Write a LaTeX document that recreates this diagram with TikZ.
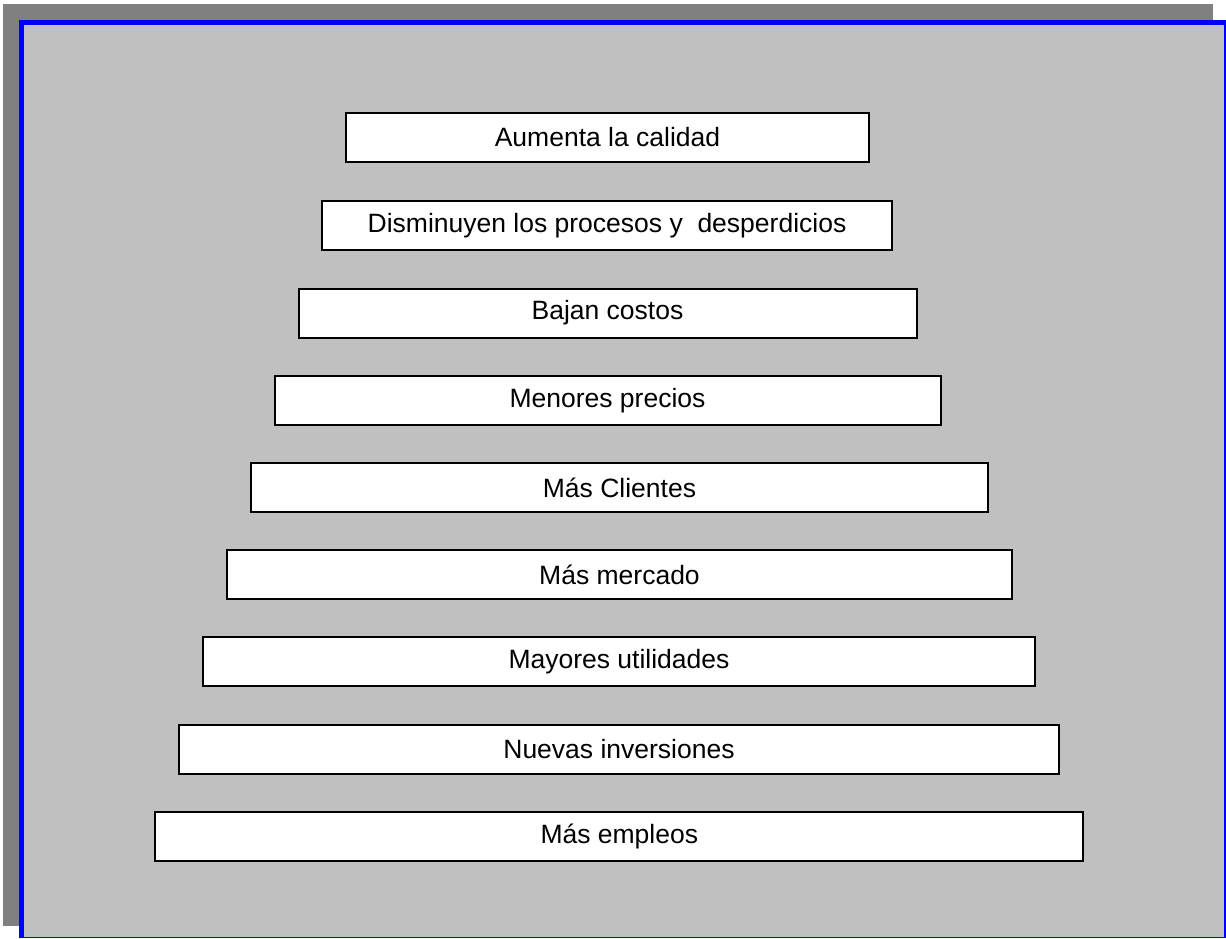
\documentclass[tikz,border=0pt]{standalone}
\usepackage{fontspec}
\setmainfont{Liberation Sans}
\definecolor{shadowgray}{RGB}{128,128,128}
\definecolor{panelgray}{RGB}{192,192,192}
\definecolor{frameblue}{RGB}{0,0,255}
\begin{document}
\begin{tikzpicture}[x=1pt,y=-1pt,
  stepbox/.style={draw=black, line width=2pt, fill=white, inner sep=0pt,
    minimum height=49pt, font=\fontsize{26.5}{30}\selectfont}]
\useasboundingbox (0,0) rectangle (1226,938);
% drop shadow and blue-framed panel
\fill[shadowgray] (3,4) rectangle (1213,926);
\fill[frameblue] (19,19.5) rectangle (1226,938);
\fill[panelgray] (24,24.5) rectangle (1224,936.5);
% stacked boxes, widening toward the bottom
\node[stepbox, minimum width=523pt] (b1) at (607.5,137.5) {Aumenta la calidad};
\node[stepbox, minimum width=570pt] (b2) at (607,225.5) {Disminuyen los procesos y\ \ desperdicios};
\node[stepbox, minimum width=618pt] (b3) at (607.5,313) {Bajan costos};
\node[stepbox, minimum width=666pt] (b4) at (607.5,400.5) {Menores precios};
\node[stepbox, minimum width=737pt] (b5) at (619.5,487.5) {Más Clientes};
\node[stepbox, minimum width=785pt] (b6) at (619.5,574.5) {Más mercado};
\node[stepbox, minimum width=832pt] (b7) at (619,661.5) {Mayores utilidades};
\node[stepbox, minimum width=880pt] (b8) at (619,749) {Nuevas inversiones};
\node[stepbox, minimum width=928pt] (b9) at (619.3,836) {Más empleos};
\end{tikzpicture}
\end{document}
